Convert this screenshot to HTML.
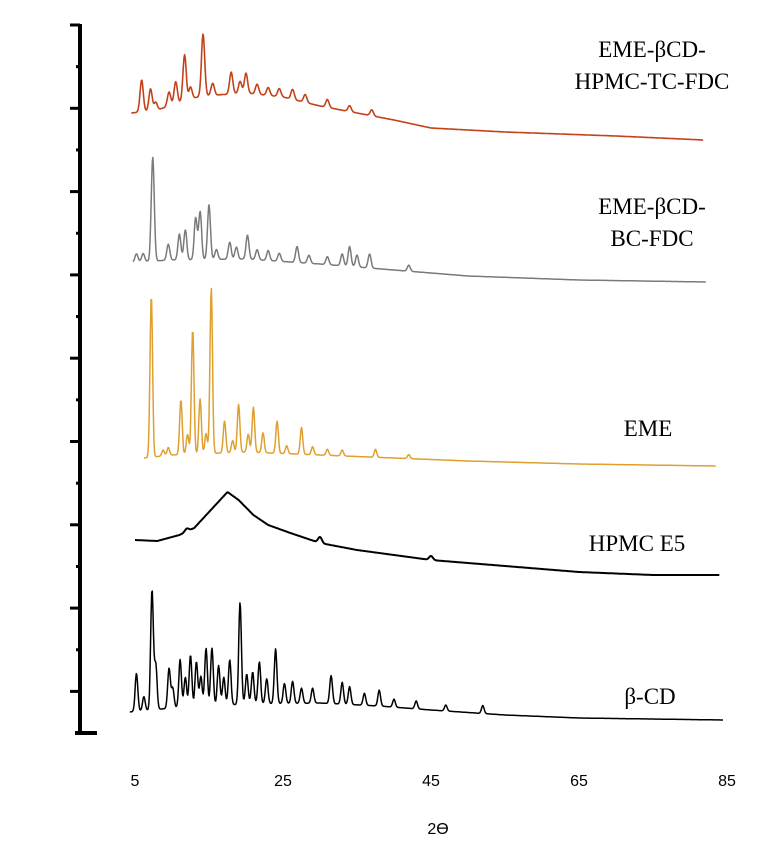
<!DOCTYPE html>
<html><head><meta charset="utf-8"><style>
body{margin:0;background:#fff;}
svg{display:block;}
.lbl{font-family:"Liberation Serif",serif;font-size:23px;fill:#000;}
.tk{font-family:"Liberation Sans",sans-serif;font-size:16px;fill:#000;}
</style></head><body>
<svg id="chart" width="764" height="864" viewBox="0 0 764 864">
<g id="axis"></g>
<g id="series"></g>
<g id="xt"></g>
<text class="tk" x="438" y="834" text-anchor="middle">2ϴ</text>
<text class="lbl" x="652" y="57" text-anchor="middle">EME-βCD-</text>
<text class="lbl" x="652" y="89" text-anchor="middle">HPMC-TC-FDC</text>
<text class="lbl" x="652" y="214" text-anchor="middle">EME-βCD-</text>
<text class="lbl" x="652" y="246" text-anchor="middle">BC-FDC</text>
<text class="lbl" x="648" y="436" text-anchor="middle">EME</text>
<text class="lbl" x="637" y="551" text-anchor="middle">HPMC E5</text>
<text class="lbl" x="650" y="704" text-anchor="middle">β-CD</text>
</svg>
<script>
const xTicks=[5,25,45,65,85];
const baseRed=[[4.5,113],[8,110],[12,100],[14,96],[20,93],[25,97],[30,106],[40,120],[45,128],[55,132],[70,136],[81.8,140]];
const peaksRed=[[5.9,32],[7.1,22],[7.8,8],[9.6,14],[10.5,22],[11.7,46],[12.5,12],[14.2,62],[15.5,12],[18,22],[19.2,12],[20,20],[21.5,10],[23,8],[24.5,8],[26.3,10],[28,8],[31,8],[34,6],[37,6]];
const baseGray=[[4.7,262],[10,260],[20,259],[30,264],[40,270],[50,276],[65,280],[82.2,282]];
const peaksGray=[[5.2,8],[6.1,8],[7.4,104],[9.5,16],[11,26],[11.8,30],[13.2,42],[13.8,48],[15,55],[16,10],[17.8,17],[18.7,12],[20.2,24],[21.5,10],[23,10],[24.5,8],[26.9,16],[28.5,8],[31,8],[33,12],[34,20],[35,12],[36.7,14],[42,6]];
const baseOr=[[6.2,458],[10,455],[20,452],[30,455],[40,458],[50,461],[65,464],[83.5,466]];
const peaksOr=[[7.2,162],[8.8,6],[9.5,8],[11.2,55],[12.1,20],[12.8,125],[13.8,55],[14.6,20],[15.3,166],[17.1,32],[18.2,12],[19,48],[20.3,18],[21,45],[22.3,20],[24.2,32],[25.5,8],[27.5,27],[29,8],[31,6],[33,6],[37.5,8],[42,4]];
const baseH=[[5,540],[8,541],[11,535],[13,528],[15,512],[17.5,492],[19,500],[21,515],[23,525],[26,533],[30,543],[35,550],[45,560],[55,566],[65,572],[75,575],[84,575]];
const peaksH=[[30,6],[45,4],[12,3]];
const baseB=[[4.3,712],[10,708],[20,704],[30,703],[38,706],[45,710],[55,715],[65,718],[84.5,720]];
const peaksB=[[5.2,38],[6.2,14],[7.3,120],[7.8,45],[9.6,40],[10.1,20],[11.1,48],[11.8,30],[12.5,52],[13.3,45],[13.9,30],[14.6,58],[15.4,58],[16.3,40],[17,28],[17.8,45],[19.2,102],[20.1,30],[20.9,32],[21.8,42],[22.8,25],[24,55],[25.2,20],[26.3,22],[27.5,15],[29,15],[31.5,28],[33,22],[34,18],[36,12],[38,16],[40,8],[43,8],[47,6],[52,8]];
const seriesList=[
 {name:'series-eme-bcd-hpmc-tc-fdc',base:baseRed,peaks:peaksRed,color:'#c2431a',w:1.6,s:0.22},
 {name:'series-eme-bcd-bc-fdc',base:baseGray,peaks:peaksGray,color:'#7a7a7a',w:1.5,s:0.2},
 {name:'series-eme',base:baseOr,peaks:peaksOr,color:'#e0a030',w:1.5,s:0.17},
 {name:'series-hpmc-e5',base:baseH,peaks:peaksH,color:'#000',w:2,s:0.25},
 {name:'series-beta-cd',base:baseB,peaks:peaksB,color:'#000',w:1.5,s:0.18}
];
const NS='http://www.w3.org/2000/svg';
function xs(v){return 135+(v-5)*7.4;}
function baseAt(b,v){
 if(v<=b[0][0])return b[0][1];
 for(let i=1;i<b.length;i++){if(v<=b[i][0]){const t=(v-b[i-1][0])/(b[i][0]-b[i-1][0]);return b[i-1][1]+t*(b[i][1]-b[i-1][1]);}}
 return b[b.length-1][1];
}
const sg=document.getElementById('series');
seriesList.forEach(S=>{
 const x0=S.base[0][0],x1=S.base[S.base.length-1][0];
 let d='';
 for(let v=x0;v<=x1+1e-6;v+=0.08){
  let y=baseAt(S.base,v);
  S.peaks.forEach(p=>{y-=p[1]*Math.exp(-Math.pow(v-p[0],2)/(2*S.s*S.s));});
  d+=(d?'L':'M')+xs(v).toFixed(1)+' '+y.toFixed(1);
 }
 const p=document.createElementNS(NS,'path');
 p.setAttribute('d',d);p.setAttribute('fill','none');p.setAttribute('stroke',S.color);
 p.setAttribute('stroke-width',S.w);p.setAttribute('stroke-linejoin','round');
 
 
 sg.appendChild(p);
});
const ax=document.getElementById('axis');
function line(x1,y1,x2,y2,w,nm){const l=document.createElementNS(NS,'line');
 l.setAttribute('x1',x1);l.setAttribute('y1',y1);l.setAttribute('x2',x2);l.setAttribute('y2',y2);
 l.setAttribute('stroke','#000');l.setAttribute('stroke-width',w);
 
 
 ax.appendChild(l);}
line(80,24,80,735,4,'y-axis-line');
line(75,733,97,733,4,'x-axis-stub');
for(let k=0;k<17;k++){const y=25+k*41.65;line(k%2?76:70,y,80,y,3,'y-tick');}
const xt=document.getElementById('xt');
xTicks.forEach(v=>{const t=document.createElementNS(NS,'text');
 t.setAttribute('x',xs(v));t.setAttribute('y',786);t.setAttribute('text-anchor','middle');t.setAttribute('class','tk');
 t.textContent=v;
 
 
 xt.appendChild(t);});
</script>
</body></html>
